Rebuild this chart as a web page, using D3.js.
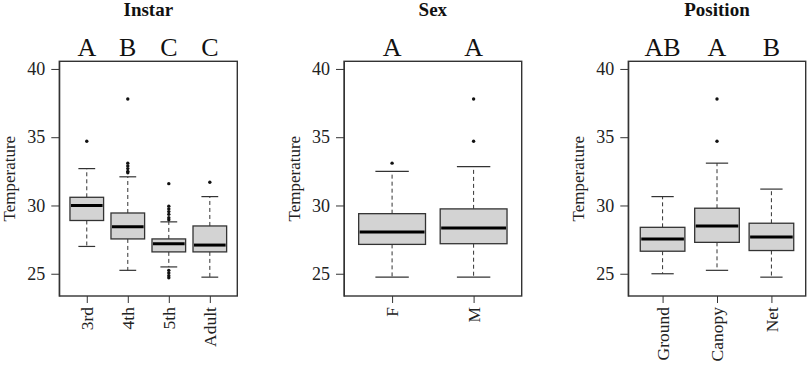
<!DOCTYPE html>
<html lang="en">
<head>
<meta charset="UTF-8">
<title>Temperature by Instar, Sex and Position</title>
<script src="https://d3js.org/d3.v7.min.js"></script>
<style>
    body { margin: 0; background: #fff; }
    svg { display: block; font-family: "Liberation Serif", "Times New Roman", serif; }
    .frame { fill: none; stroke: #333; stroke-width: 1.4px; }
    .box { fill: #d3d3d3; stroke: #333; stroke-width: 1.3px; }
    .median { stroke: #000; stroke-width: 3px; }
    .whisker { stroke: #333; stroke-width: 1px; stroke-dasharray: 4,3; }
    .cap { stroke: #333; stroke-width: 1.2px; }
    .outlier { fill: #111; }
    .axis path, .axis line { stroke: #333; stroke-width: 1px; }
    .axis text { fill: #222; font-size: 18px; font-family: "Liberation Serif", serif; }
</style>
</head>
<body>
<svg width="809" height="365"></svg>
<script>
// 每個面板的資料：類別、顯著性字母、五數摘要 [下鬚, Q1, 中位數, Q3, 上鬚]、離群值
const yTicks = [25, 30, 35, 40];

const instarCats = ["3rd", "4th", "5th", "Adult"];
const instarLetters = ["A", "B", "C", "C"];
const instarStats = [
    [27.0, 28.9, 30.0, 30.6, 32.7],
    [25.25, 27.55, 28.45, 29.45, 32.1],
    [25.5, 26.6, 27.2, 27.55, 28.8],
    [24.75, 26.6, 27.1, 28.5, 30.65]
];
const instarOut = [
    [34.7],
    [37.8, 33.1, 32.9, 32.7, 32.5, 32.4],
    [31.6, 29.95, 29.75, 29.55, 29.35, 29.1, 28.95, 25.25, 25.05, 24.85, 24.7],
    [31.7]
];

const sexCats = ["F", "M"];
const sexLetters = ["A", "A"];
const sexStats = [
    [24.75, 27.15, 28.05, 29.4, 32.5],
    [24.75, 27.2, 28.35, 29.75, 32.85]
];
const sexOut = [
    [33.1],
    [37.8, 34.7]
];

const posCats = ["Ground", "Canopy", "Net"];
const posLetters = ["AB", "A", "B"];
const posStats = [
    [25.0, 26.65, 27.55, 28.4, 30.65],
    [25.25, 27.3, 28.5, 29.8, 33.1],
    [24.75, 26.7, 27.7, 28.7, 31.2]
];
const posOut = [
    [],
    [37.8, 34.7],
    []
];

// 版面設定
const plotTop = 61.3, plotBottom = 296;
const panels = [
    { title: "Instar", cats: instarCats, letters: instarLetters, stats: instarStats, out: instarOut, left: 59.3, right: 237.3, pad: 0.67 },
    { title: "Sex", cats: sexCats, letters: sexLetters, stats: sexStats, out: sexOut, left: 344, right: 521.7, pad: 0.59 },
    { title: "Position", cats: posCats, letters: posLetters, stats: posStats, out: posOut, left: 628.3, right: 805.7, pad: 0.63 }
];

const svg = d3.select("svg");

const y = d3.scaleLinear()
    .domain([23.37, 40.56])
    .range([plotBottom, plotTop]);

panels.forEach(function(p) {
    const g = svg.append("g");

    const x = d3.scalePoint()
        .domain(p.cats)
        .range([p.left, p.right])
        .padding(p.pad);

    const boxW = x.step() * 0.82;
    const capW = boxW * 0.5;

    // 標題
    g.append("text")
        .attr("x", (p.left + p.right) / 2)
        .attr("y", 16)
        .attr("text-anchor", "middle")
        .style("font-size", "19px")
        .style("font-weight", "bold")
        .style("fill", "#111")
        .text(p.title);

    // 顯著性字母
    g.selectAll(".letter")
        .data(p.cats)
        .enter().append("text")
        .attr("x", d => x(d))
        .attr("y", 55.5)
        .attr("text-anchor", "middle")
        .style("font-size", "26px")
        .style("fill", "#111")
        .text((d, i) => p.letters[i]);

    // Y 軸
    g.append("g")
        .attr("class", "axis")
        .attr("transform", "translate(" + p.left + ",0)")
        .call(d3.axisLeft(y).tickValues(yTicks).tickSize(8).tickSizeOuter(0).tickPadding(6));

    // Y 軸標題
    g.append("text")
        .attr("transform", "translate(" + (p.left - 44.5) + "," + ((plotTop + plotBottom) / 2) + ") rotate(-90)")
        .attr("text-anchor", "middle")
        .style("font-size", "17px")
        .style("fill", "#222")
        .text("Temperature");

    // X 軸
    const xAxis = g.append("g")
        .attr("class", "axis")
        .attr("transform", "translate(0," + plotBottom + ")")
        .call(d3.axisBottom(x).tickSize(7).tickSizeOuter(0));
    xAxis.select(".domain").remove();
    xAxis.selectAll(".tick text")
        .attr("transform", "rotate(-90)")
        .attr("x", -11)
        .attr("y", 0)
        .attr("dy", "0.33em")
        .attr("text-anchor", "end")
        .style("font-size", "17.5px");

    // 箱形圖
    const items = p.cats.map((c, i) => ({ cat: c, s: p.stats[i], out: p.out[i] }));

    const bx = g.selectAll(".bx")
        .data(items)
        .enter().append("g");

    // 鬚（虛線）
    bx.append("line")
        .attr("class", "whisker")
        .attr("x1", d => x(d.cat)).attr("x2", d => x(d.cat))
        .attr("y1", d => y(d.s[3])).attr("y2", d => y(d.s[4]));
    bx.append("line")
        .attr("class", "whisker")
        .attr("x1", d => x(d.cat)).attr("x2", d => x(d.cat))
        .attr("y1", d => y(d.s[1])).attr("y2", d => y(d.s[0]));

    // 鬚端
    bx.append("line")
        .attr("class", "cap")
        .attr("x1", d => x(d.cat) - capW / 2).attr("x2", d => x(d.cat) + capW / 2)
        .attr("y1", d => y(d.s[4])).attr("y2", d => y(d.s[4]));
    bx.append("line")
        .attr("class", "cap")
        .attr("x1", d => x(d.cat) - capW / 2).attr("x2", d => x(d.cat) + capW / 2)
        .attr("y1", d => y(d.s[0])).attr("y2", d => y(d.s[0]));

    // 箱
    bx.append("rect")
        .attr("class", "box")
        .attr("x", d => x(d.cat) - boxW / 2)
        .attr("width", boxW)
        .attr("y", d => y(d.s[3]))
        .attr("height", d => y(d.s[1]) - y(d.s[3]));

    // 中位數
    bx.append("line")
        .attr("class", "median")
        .attr("x1", d => x(d.cat) - boxW / 2 + 1).attr("x2", d => x(d.cat) + boxW / 2 - 1)
        .attr("y1", d => y(d.s[2])).attr("y2", d => y(d.s[2]));

    // 離群值
    bx.selectAll(".outlier")
        .data(d => d.out.map(v => ({ cat: d.cat, v: v })))
        .enter().append("circle")
        .attr("class", "outlier")
        .attr("cx", d => x(d.cat))
        .attr("cy", d => y(d.v))
        .attr("r", 1.7);

    // 外框
    g.append("rect")
        .attr("class", "frame")
        .attr("x", p.left)
        .attr("y", plotTop)
        .attr("width", p.right - p.left)
        .attr("height", plotBottom - plotTop);
});
</script>
</body>
</html>
